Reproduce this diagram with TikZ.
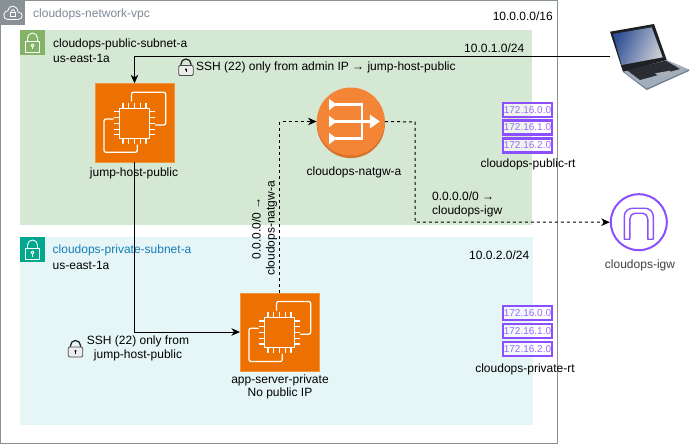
\documentclass[tikz,border=0pt]{standalone}
\usepackage{fontspec}
\setmainfont{Liberation Sans}
\usetikzlibrary{arrows.meta}
\definecolor{vpcgrey}{HTML}{879196}
\definecolor{pubfill}{HTML}{D5E8D4}
\definecolor{privfill}{HTML}{E6F6F7}
\definecolor{pubicon}{HTML}{82B366}
\definecolor{privicon}{HTML}{01A88D}
\definecolor{ecorange}{HTML}{ED7100}
\definecolor{natorange}{HTML}{F58536}
\definecolor{natdark}{HTML}{D9722B}
\definecolor{rtpurple}{HTML}{8C4FFF}
\definecolor{privblue}{HTML}{147EBA}
\definecolor{vpctext}{HTML}{7D8998}
\definecolor{lapbase}{HTML}{A3AEBD}
\definecolor{lapedge}{HTML}{6F7A8A}
\definecolor{lapdark}{HTML}{2B2D33}
\definecolor{scrdark}{HTML}{2F4F94}
\definecolor{scrlight}{HTML}{C9CDD6}
\tikzset{
  x=1pt,y=-1pt,
  lbl/.style={font=\fontsize{12}{14}\selectfont,inner sep=0pt,text=black},
  lft/.style={lbl,anchor=west},
  ec2box/.style={draw=ecorange!75!white,line width=.5pt,fill=ecorange,minimum size=78.5pt,inner sep=0pt},
  rtbox/.style={draw=rtpurple,line width=2.4pt,fill=white,fill opacity=.55,text opacity=1,text=rtpurple!85!white,
     minimum width=49pt,minimum height=14pt,inner sep=0pt,font=\fontsize{10}{12}\selectfont},
  link/.style={draw=black,line width=1pt,-{Stealth[length=8.5pt,width=7.5pt,inset=2.5pt]}},
  dlink/.style={link,dash pattern=on 3pt off 3pt},
  chipline/.style={draw=white,line width=1.3pt,line cap=round,line join=round},
  lockbody/.style={draw=black!70,line width=.8pt,rounded corners=1.2pt,fill=black!8},
  whiteline/.style={draw=white,line width=.9pt,line join=round}
}
\newcommand{\chip}[2]{%
 \begin{scope}[shift={(#1,#2)}]
  \draw[chipline,rounded corners=2pt] (-3,-21.8) -- (-3,-30.5) -- (31.2,-30.5) -- (31.2,2.2) -- (21,2.2);
  \draw[chipline,rounded corners=2pt] (-21.2,-3.8) -- (-30.5,-3.8) -- (-30.5,29.5) -- (2.8,29.5) -- (2.8,22.2);
  \draw[chipline,line width=1.5pt] (-15,-14.5) rectangle (15,15.5);
  \foreach \u in {-11.5,-5.75,0,5.75,11.5}{
    \draw[chipline,line width=1.1pt] (\u,-14.5)--(\u,-19.5);
    \draw[chipline,line width=1.1pt] (\u,15.5)--(\u,20.5);
    \draw[chipline,line width=1.1pt] (-15,\u+.5)--(-20,\u+.5);
    \draw[chipline,line width=1.1pt] (15,\u+.5)--(20,\u+.5);
  }
 \end{scope}}
\newcommand{\lockicon}[2]{%
 \begin{scope}[shift={(#1,#2)}]
  \draw[black!85,line width=1.3pt] (-5,1) -- (-5,-1.5) arc[start angle=180,end angle=360,radius=5] -- (5,1);
  \draw[lockbody] (-7.2,0) rectangle (7.2,10);
  \fill[black] (0,4) circle (1.1pt);
  \draw[black,line width=.7pt] (0,4)--(0,6.5);
 \end{scope}}
\newcommand{\subneticon}[3]{%
 \fill[#3] (#1,#2) rectangle ++(25,25);
 \begin{scope}[shift={(#1+12.5,#2+12.5)}]
  \draw[whiteline] (-5,-1)--(-5,-4.5) arc[start angle=180,end angle=360,radius=5] -- (5,-1);
  \draw[whiteline] (-7,-1) rectangle (7,9.5);
  \draw[whiteline] (0,3) circle (1.5pt);
  \draw[whiteline] (0,4.5)--(0,7);
 \end{scope}}
\begin{document}
\begin{tikzpicture}
\useasboundingbox (0,0) rectangle (690,444);
\fill[white] (0,0) rectangle (690,444);
% VPC
\fill[pubfill] (20,30) rectangle (532,225);
\fill[privfill] (20,237) rectangle (533,425);
\draw[vpcgrey,line width=.9pt] (0.5,0.5) rectangle (557.5,443);
\fill[vpcgrey] (0,0) rectangle (25,25);
\draw[white,line width=.8pt,line join=round] (7.5,19.5) -- (18,19.5) .. controls (23.5,19.5) and (23.5,12) .. (18,12) .. controls (17.5,5) and (9.5,4) .. (8,10.5) .. controls (2.5,11) and (2.5,19.5) .. (7.5,19.5);
\draw[white,line width=.7pt] (10.2,12.5) rectangle (15.8,16.5);
\draw[white,line width=.6pt] (11.2,12.5)--(11.2,11.2) arc[start angle=180,end angle=360,radius=1.8] --(14.8,12.5);
\node[lft,text=vpctext] (vpclabel) at (33,14) {cloudops-network-vpc};
\node[lft,anchor=east] (vpccidr) at (553,16) {10.0.0.0/16};
% subnets
\subneticon{20}{30}{pubicon}
\subneticon{20}{237}{privicon}
\node[lft] (publabel) at (53,44) {cloudops-public-subnet-a};
\node[lft] (pubaz) at (53,58) {us-east-1a};
\node[lft] (pubcidr) at (464,48) {10.0.1.0/24};
\node[lft,text=privblue] (privlabel) at (52.5,250) {cloudops-private-subnet-a};
\node[lft] (privaz) at (52.5,265) {us-east-1a};
\node[lft] (privcidr) at (469,255) {10.0.2.0/24};
% nodes
\node[ec2box] (jump) at (134.5,122.8) {};
\chip{134.5}{122.8}
\node[lbl] (jumplabel) at (134,173) {jump-host-public};
\node[ec2box] (app) at (279.5,332) {};
\chip{279.5}{332}
\node[lbl,align=center] (applabel) at (280,387) {app-server-private\\[-0.5pt]No public IP};
% NAT
\fill[natdark] (350.8,124) circle (34.1);
\node[circle,fill=natorange,minimum size=68pt,inner sep=0pt] (nat) at (350.8,121.5) {};
\begin{scope}[shift={(350.8,121.5)}]
  \draw[white,line width=2.2pt] (-16,-17) -- (11.5,-17) -- (11.5,17) -- (-16,17);
  \draw[white,line width=2.2pt] (-16,0) -- (21,0);
  \foreach \v in {-17,0,17}{
    \fill[white] (-21.8,\v-5.7)--(-14.1,\v)--(-21.8,\v+5.7)--cycle;
  }
  \fill[white] (19,-7)--(29,0)--(19,7)--cycle;
\end{scope}
\node[lbl] (natlabel) at (354,172) {cloudops-natgw-a};
% IGW
\node[circle,draw=rtpurple,line width=2pt,fill=white,minimum size=56pt,inner sep=0pt] (igw) at (638.8,222.2) {};
\begin{scope}[shift={(638.8,222.2)}]
  \draw[rtpurple,line width=1.4pt,line join=round] (-14.5,17) -- (-14.5,-6) .. controls (-14.5,-11) and (-10,-14) .. (-6,-14) -- (6,-14) .. controls (10,-14) and (14.5,-11) .. (14.5,-6) -- (14.5,17) -- (9,17) -- (9,-3) .. controls (9,-6) and (7,-9) .. (4,-9) -- (-4,-9) .. controls (-7,-9) and (-9,-6) .. (-9,-3) -- (-9,17) -- cycle;
\end{scope}
\node[lbl,text=black!75] (igwlabel) at (640,265) {cloudops-igw};
% Laptop
\fill[lapedge] (623,72) -- (646.7,90) -- (689,71) -- (689,69) -- cycle;
\fill[lapbase] (623,71) -- (666.7,60) -- (689,69.5) -- (646.7,88.5) -- cycle;
\fill[lapdark] (626.7,70) -- (666,60.7) -- (680,69) -- (640,80) -- cycle;
\fill[lapedge!60!white] (655,73.3) -- (670,70.7) -- (671.7,74.5) -- (661.7,78.3) -- cycle;
\fill[lapdark!70!black] (610,31.7) -- (654,24) -- (666.7,60) -- (623,71.7) -- cycle;
\shade[left color=scrdark,right color=scrlight,shading angle=65] (613,34) -- (651.7,27.3) -- (662.7,57.3) -- (621.7,65) -- cycle;
\coordinate (laptop) at (610,56.5);
% Route tables
\node[rtbox] (rta) at (527.5,110) {172.16.0.0};
\node[rtbox] (rtb) at (527.5,127.5) {172.16.1.0};
\node[rtbox] (rtc) at (527.5,145.5) {172.16.2.0};
\node[lbl] (pubrt) at (528,164) {cloudops-public-rt};
\node[rtbox] (rtd) at (527.5,313) {172.16.0.0};
\node[rtbox] (rte) at (527.5,331) {172.16.1.0};
\node[rtbox] (rtf) at (527.5,349) {172.16.2.0};
\node[lbl] (privrt) at (525,369) {cloudops-private-rt};
% connectors
\coordinate (natbend) at (415,122);
\coordinate (igwbend) at (415,222.2);
\draw[link] (laptop) -| (jump.north);
\draw[link] (jump.south) |- (app.west);
\draw[dlink] (app.north) |- (nat.west);
\draw[dlink] (nat.east) -- (natbend) -- (igwbend) -- (igw.west);
% labels on connectors
\lockicon{186}{65.5}
\node[lft] (sshtop) at (196,67) {SSH (22) only from admin IP → jump-host-public};
\lockicon{75.5}{347}
\node[lbl,align=center] (sshbot) at (138,348.5) {SSH (22) only from\\jump-host-public};
\node[lbl,align=left,anchor=west] (igwroute) at (432,204.5) {0.0.0.0/0 →\\cloudops-igw};
\node[lbl,align=center,rotate=90] (natroute) at (264.5,228.5) {0.0.0.0/0 →\\cloudops-natgw-a};
\end{tikzpicture}
\end{document}
